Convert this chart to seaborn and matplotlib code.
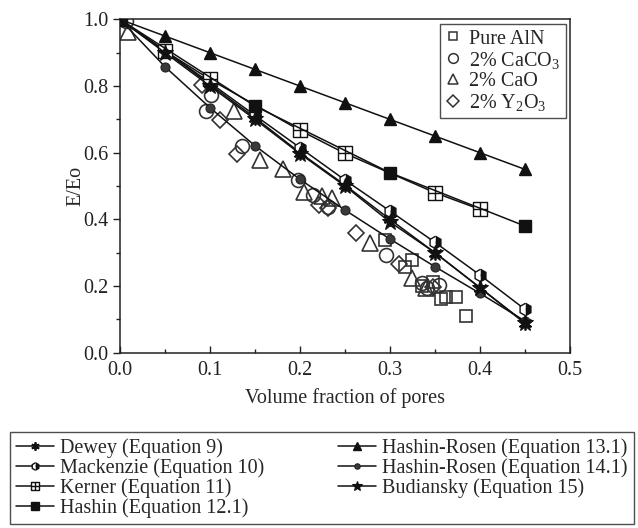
import numpy as np
import pandas as pd
import matplotlib
matplotlib.use("Agg")
import matplotlib.pyplot as plt
from matplotlib.lines import Line2D
from matplotlib.path import Path
import seaborn as sns

# ---------------- data ----------------
x_full = [0.0, 0.05, 0.10, 0.15, 0.20, 0.25, 0.30, 0.35, 0.40, 0.45]
dewey = [1.0, 0.905, 0.805, 0.705, 0.600, 0.503, 0.400, 0.300, 0.195, 0.090]
mackenzie = [1.0, 0.905, 0.810, 0.712, 0.615, 0.518, 0.425, 0.331, 0.233, 0.130]
kerner_x = [0.0, 0.05, 0.10, 0.20, 0.25, 0.35, 0.40]
kerner = [1.0, 0.905, 0.820, 0.667, 0.598, 0.480, 0.430]
hashin_x = [0.0, 0.15, 0.30, 0.45]
hashin = [1.0, 0.740, 0.540, 0.380]
hr13 = [1.0, 0.95, 0.90, 0.85, 0.80, 0.75, 0.70, 0.65, 0.60, 0.55]
hr14 = [1.0, 0.858, 0.735, 0.621, 0.520, 0.428, 0.341, 0.258, 0.178, 0.095]
budiansky = [1.0, 0.900, 0.800, 0.700, 0.597, 0.500, 0.392, 0.300, 0.195, 0.088]

aln_x = [0.294, 0.324, 0.317, 0.336, 0.348, 0.357, 0.362, 0.373, 0.384]
aln_y = [0.338, 0.278, 0.256, 0.200, 0.213, 0.160, 0.168, 0.166, 0.111]
caco3_x = [0.007, 0.101, 0.096, 0.135, 0.198, 0.214, 0.231, 0.296, 0.335, 0.341, 0.354]
caco3_y = [0.996, 0.773, 0.724, 0.620, 0.519, 0.474, 0.437, 0.294, 0.210, 0.193, 0.203]
cao_x = [0.009, 0.127, 0.155, 0.181, 0.204, 0.224, 0.235, 0.278, 0.324, 0.340]
cao_y = [0.963, 0.724, 0.577, 0.552, 0.482, 0.470, 0.465, 0.328, 0.223, 0.193]
y2o3_x = [0.091, 0.111, 0.130, 0.221, 0.231, 0.262, 0.310, 0.348]
y2o3_y = [0.803, 0.698, 0.597, 0.443, 0.433, 0.360, 0.265, 0.196]

model_labels = ["Dewey (Equation 9)", "Mackenzie (Equation 10)",
                "Kerner (Equation 11)", "Hashin (Equation 12.1)",
                "Hashin-Rosen (Equation 13.1)", "Hashin-Rosen (Equation 14.1)",
                "Budiansky (Equation 15)"]
exp_labels = ["Pure AlN", "2% CaCO$_3$", "2% CaO", "2% Y$_2$O$_3$"]

# ---------------- style ----------------
sns.set_theme(style="ticks")
plt.rcParams["font.family"] = ["Liberation Serif", "DejaVu Serif"]
plt.rcParams["mathtext.fontset"] = "custom"
plt.rcParams["mathtext.rm"] = "Liberation Serif"
plt.rcParams["mathtext.it"] = "Liberation Serif:italic"
FS = 14.5

fig = plt.figure(figsize=(6.38, 5.28), dpi=100)
ax = fig.add_axes([120 / 638, 1 - 352.7 / 528, 450 / 638, 333.3 / 528])

# boxed-plus marker
bp_verts = [(-1, -1), (1, -1), (1, 1), (-1, 1), (-1, -1),
            (0, -1), (0, 1), (-1, 0), (1, 0)]
bp_codes = [Path.MOVETO, Path.LINETO, Path.LINETO, Path.LINETO, Path.CLOSEPOLY,
            Path.MOVETO, Path.LINETO, Path.MOVETO, Path.LINETO]
boxplus = Path(bp_verts, bp_codes)

lc = "#111111"
model_styles = [
    dict(marker=(6, 2, 0), ms=10, mew=1.3, mfc=lc, mec=lc),
    dict(marker="h", ms=9, mew=1.0, fillstyle="right", mfc=lc, mfcalt="white", mec=lc),
    dict(marker=boxplus, ms=10, mew=1.0, mfc="white", mec=lc),
    dict(marker="s", ms=8.5, mew=1.0, mfc=lc, mec=lc),
    dict(marker="^", ms=9, mew=1.0, mfc=lc, mec=lc),
    dict(marker="o", ms=6.5, mew=0.8, mfc="#3a3a3a", mec="#222222"),
    dict(marker="*", ms=12, mew=0.8, mfc=lc, mec=lc),
]
model_data = [(x_full, dewey), (x_full, mackenzie), (kerner_x, kerner),
              (hashin_x, hashin), (x_full, hr13), (x_full, hr14), (x_full, budiansky)]

for (xs, ys), st in zip(model_data, model_styles):
    sns.lineplot(x=xs, y=ys, ax=ax, color=lc, lw=1.1, estimator=None, sort=False,
                 zorder=3, **st)

ec = "#333333"
exp_styles = [dict(marker="s", ms=9), dict(marker="o", ms=10),
              dict(marker="^", ms=11), dict(marker="D", ms=8.5)]
exp_data = [(aln_x, aln_y), (caco3_x, caco3_y), (cao_x, cao_y), (y2o3_x, y2o3_y)]
for (xs, ys), st in zip(exp_data, exp_styles):
    sns.lineplot(x=xs, y=ys, ax=ax, linestyle="none", estimator=None, sort=False,
                 mfc="none", mec=ec, mew=1.2, zorder=2, **st)

ax.set_xlim(0, 0.5)
ax.set_ylim(0, 1.0)
ax.set_xticks([0.0, 0.1, 0.2, 0.3, 0.4, 0.5])
ax.set_xticks([0.05, 0.15, 0.25, 0.35, 0.45], minor=True)
ax.set_yticks([0.0, 0.2, 0.4, 0.6, 0.8, 1.0])
ax.set_yticks([0.1, 0.3, 0.5, 0.7, 0.9], minor=True)
ax.xaxis.set_major_formatter(matplotlib.ticker.FormatStrFormatter("%.1f"))
ax.yaxis.set_major_formatter(matplotlib.ticker.FormatStrFormatter("%.1f"))
ax.tick_params(axis="x", which="both", direction="in", labelsize=FS, pad=6,
               color="#222222", width=1.0)
ax.tick_params(axis="x", which="major", length=5)
ax.tick_params(axis="x", which="minor", length=3)
ax.tick_params(axis="y", which="both", direction="out", labelsize=FS,
               color="#222222", width=1.0)
ax.tick_params(axis="y", which="major", length=5)
ax.tick_params(axis="y", which="minor", length=3)
for s in ax.spines.values():
    s.set_visible(True)
    s.set_color("#222222")
    s.set_linewidth(1.1)
ax.set_xlabel("Volume fraction of pores", fontsize=FS, labelpad=6)
ax.set_ylabel("E/Eo", fontsize=FS, labelpad=-2)
for t in ax.get_xticklabels() + ax.get_yticklabels():
    t.set_color("#222222")

# inner legend (experimental)
exp_handles = [Line2D([], [], linestyle="none", mfc="none", mec=ec, mew=1.1,
                      marker=st["marker"], ms=st["ms"] * 0.7) for st in exp_styles]
leg1 = ax.legend(exp_handles, exp_labels, loc="upper right",
                 bbox_to_anchor=(0.99, 0.985), fontsize=FS, frameon=True,
                 fancybox=False, edgecolor="#222222", handlelength=0.8,
                 handletextpad=0.4, labelspacing=0.05, borderpad=0.25,
                 borderaxespad=0.0)
leg1.get_frame().set_linewidth(1.0)

# bottom legend (models)
model_handles = []
for st in model_styles:
    st2 = dict(st)
    st2["ms"] = st["ms"] * 0.6
    model_handles.append(Line2D([], [], color=lc, lw=1.1, **st2))
leg2 = fig.legend(model_handles, model_labels, loc="upper left", ncol=2,
                  bbox_to_anchor=(10 / 638, 0, 624 / 638, 1 - 432 / 528),
                  mode="expand", fontsize=FS, frameon=True, fancybox=False,
                  edgecolor="#222222", handlelength=1.9, handletextpad=0.3,
                  labelspacing=0.02, borderpad=0.3, columnspacing=1.0,
                  borderaxespad=0.0)
leg2.get_frame().set_linewidth(1.0)

fig.savefig("out.png", dpi=100)
